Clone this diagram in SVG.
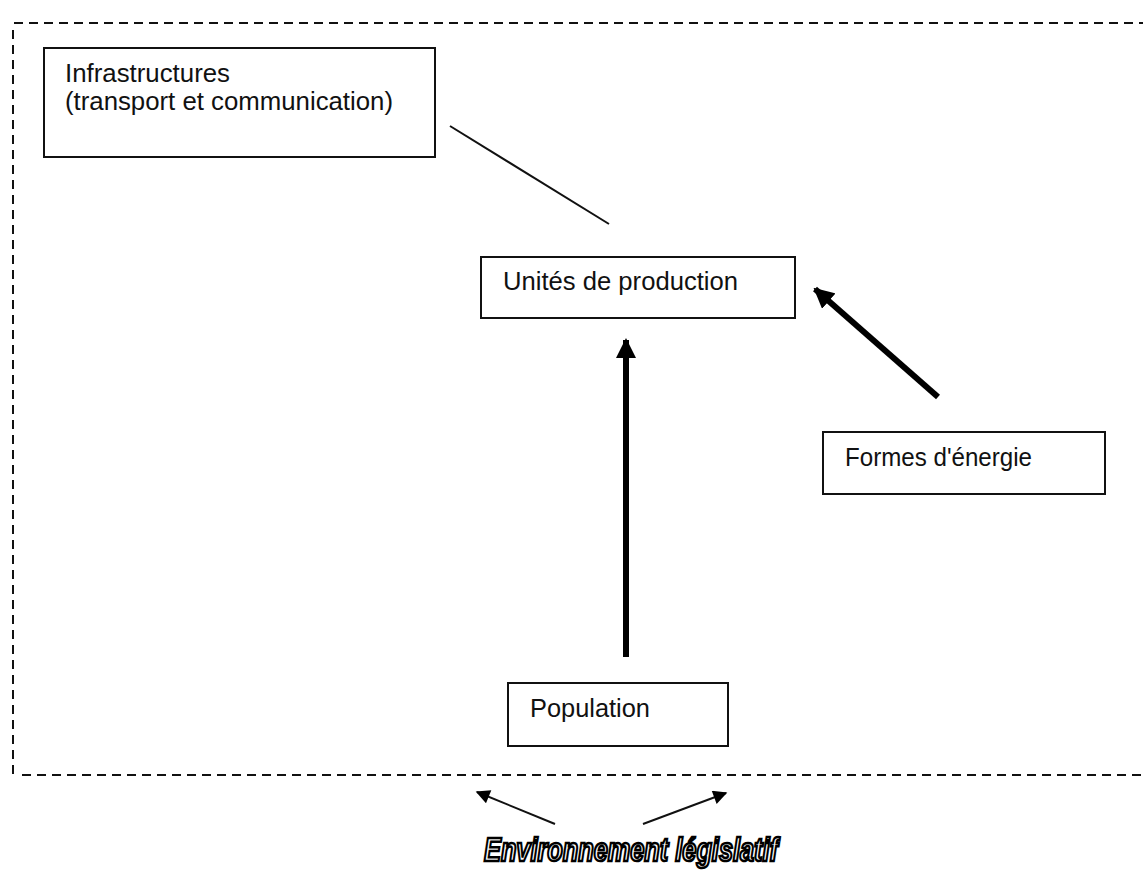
<svg xmlns="http://www.w3.org/2000/svg" width="1143" height="875" viewBox="0 0 1143 875">
<style>
.box{fill:#fff;stroke:#111;stroke-width:2}
.lbl{font-family:"Liberation Sans",Arial,sans-serif;font-size:25px;fill:#111}
.dash{stroke:#111;stroke-width:2;stroke-dasharray:9 6;fill:none}
.thick{stroke:#000;stroke-width:6;fill:none}
.thin{stroke:#111;stroke-width:2;fill:none}
</style>
<defs>
<marker id="ahBig" viewBox="0 0 10 10" refX="9" refY="5" markerWidth="3.4" markerHeight="3.4" orient="auto" markerUnits="strokeWidth">
<path d="M0,0 L10,5 L0,10 Z" fill="#000"/>
</marker>
<marker id="ahSmall" viewBox="0 0 10 10" refX="9" refY="5" markerWidth="7.5" markerHeight="7" orient="auto" markerUnits="strokeWidth">
<path d="M0,0 L10,5 L0,10 Z" fill="#000"/>
</marker>
</defs>
<rect width="1143" height="875" fill="#fff"/>
<g id="frame">
<line class="dash" x1="14" y1="23" x2="1143" y2="23"/>
<line class="dash" x1="13" y1="30" x2="13" y2="775"/>
<line class="dash" x1="22" y1="775" x2="1143" y2="775"/>
</g>
<g id="connectors">
<line class="thin" x1="450" y1="126" x2="609" y2="224"/>
<line class="thick" x1="626" y1="657" x2="626" y2="340" marker-end="url(#ahBig)"/>
<line class="thick" x1="938" y1="397" x2="815" y2="289" marker-end="url(#ahBig)"/>
<line class="thin" x1="555" y1="824" x2="477" y2="792" marker-end="url(#ahSmall)"/>
<line class="thin" x1="643" y1="824" x2="726" y2="793" marker-end="url(#ahSmall)"/>
</g>
<g id="infrastructures">
<rect class="box" x="44" y="48" width="391" height="109"/>
<text class="lbl" x="65" y="82" textLength="165" lengthAdjust="spacingAndGlyphs">Infrastructures</text>
<text class="lbl" x="65" y="110" textLength="328" lengthAdjust="spacingAndGlyphs">(transport et communication)</text>
</g>
<g id="unites">
<rect class="box" x="481" y="257" width="314" height="61"/>
<text class="lbl" x="503" y="290" textLength="235" lengthAdjust="spacingAndGlyphs">Unités de production</text>
</g>
<g id="energie">
<rect class="box" x="823" y="432" width="282" height="62"/>
<text class="lbl" x="845" y="466" textLength="187" lengthAdjust="spacingAndGlyphs">Formes d'énergie</text>
</g>
<g id="population">
<rect class="box" x="508" y="683" width="220" height="63"/>
<text class="lbl" x="530" y="717" textLength="120" lengthAdjust="spacingAndGlyphs">Population</text>
</g>
<g id="environnement">
<text x="484" y="861" textLength="294" lengthAdjust="spacingAndGlyphs" style="font-family:'Liberation Sans',Arial,sans-serif;font-size:33px;font-weight:bold;font-style:italic;fill:#fff;stroke:#000;stroke-width:2.6">Environnement législatif</text>
</g>
</svg>
